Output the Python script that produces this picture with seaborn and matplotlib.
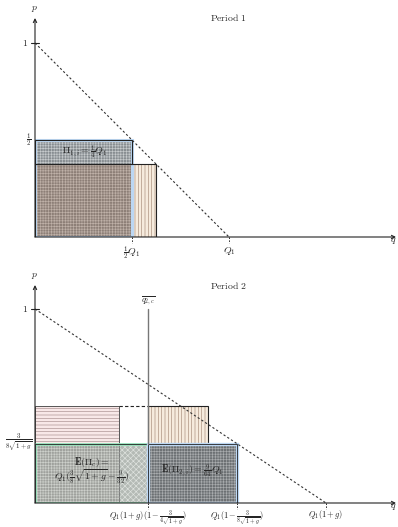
"""
Two-period pricing diagram: demand lines and profit rectangles,
drawn in q (units of Q1) and p coordinates.
"""

import matplotlib
matplotlib.use('Agg')
import matplotlib.pyplot as plt
import seaborn as sns

# Period 1 values
P1_DEMAND_Q = [0.0, 1.0]
P1_DEMAND_P = [1.0, 0.0]
P1_HALF = 0.5            # monopoly price and quantity (1/2, 1/2 Q1)
P1_ENTRY_P = 0.375       # 3/8
P1_ENTRY_Q = 0.625       # 5/8 Q1

# Period 2 values (g read as 0.5)
P2_DEMAND_Q = [0.0, 1.5]
P2_DEMAND_P = [1.0, 0.0]
P2_LOW_P = 0.306         # 3 / (8 sqrt(1+g))
P2_HIGH_P = 0.5
P2_QBAR = 0.581          # Q1(1+g)(1 - 3/(4 sqrt(1+g)))
P2_RIGHT_Q = 1.041       # Q1(1+g)(1 - 3/(8 sqrt(1+g)))
P2_HSTRIPE_Q = 0.433
P2_VSTRIPE_Q = 0.892

# Labels
P1_XTICKS = [0.5, 1.0]
P1_XLABELS = [r'$\frac{1}{2}Q_1$', r'$Q_1$']
P2_XTICKS = [P2_QBAR, P2_RIGHT_Q, 1.5]
P2_XLABELS = [r'$Q_1(1+g)(1-\frac{3}{4\sqrt{1+g}})$',
              r'$Q_1(1-\frac{3}{8\sqrt{1+g}})$',
              r'$Q_1(1+g)$']

SCALE = 194.0  # pixels per unit


def box(ax, x0, x1, y0, y1, face, hatch_color, hatch, z):
    ax.bar(x0, y1 - y0, width=x1 - x0, bottom=y0, align='edge',
           color=face, edgecolor=hatch_color, hatch=hatch, linewidth=0, zorder=z)


def outline(ax, x0, x1, y0, y1, color, lw, z):
    ax.bar(x0, y1 - y0, width=x1 - x0, bottom=y0, align='edge',
           fill=False, edgecolor=color, linewidth=lw, zorder=z)


def axes_frame(ax, xmax, ymax):
    ax.set_xlim(0, xmax)
    ax.set_ylim(0, ymax)
    ax.axis('off')
    arrow = dict(arrowstyle='->', lw=0.8, color='#222222', shrinkA=0, shrinkB=0,
                 mutation_scale=6)
    ax.annotate('', xy=(xmax, 0), xytext=(0, 0), arrowprops=arrow,
                annotation_clip=False, zorder=10)
    ax.annotate('', xy=(0, ymax), xytext=(0, 0), arrowprops=arrow,
                annotation_clip=False, zorder=10)
    ax.text(0, ymax + 0.045, r'$p$', ha='center', va='center', fontsize=7)
    ax.text(xmax - 0.015, -0.02, r'$q$', ha='center', va='center', fontsize=7)
    ax.plot([-0.02, 0.02], [1, 1], color='#222222', lw=0.8, clip_on=False, zorder=10)
    ax.text(-0.035, 1, r'$1$', ha='right', va='center', fontsize=7)


def xticks(ax, pos, labels, size, top):
    for q, lab in zip(pos, labels):
        ax.plot([q, q], [0, -0.03], color='#222222', lw=0.7,
                linestyle=(0, (1.5, 1.5)), clip_on=False, zorder=10)
        ax.text(q, top, lab, ha='center', va='top', fontsize=size)


def main():
    sns.set_theme(style='white')
    plt.rcParams['mathtext.fontset'] = 'cm'
    plt.rcParams['font.family'] = ['DejaVu Serif']
    plt.rcParams['hatch.linewidth'] = 0.45

    fig = plt.figure(figsize=(3.98, 5.27), dpi=100)
    W, H = 398.0, 527.0

    # ---------- Period 1 ----------
    ax1 = fig.add_axes([35 / W, (H - 237) / H, 361 / W, 219 / H])
    xmax1, ymax1 = 361 / SCALE, 219 / SCALE
    axes_frame(ax1, xmax1, ymax1)

    box(ax1, 0, P1_HALF, P1_ENTRY_P, P1_HALF, '#878d91', '#c6cacc', '++++++', 2)
    box(ax1, 0, P1_HALF, 0, P1_ENTRY_P, '#8d7f77', '#bfb1a8', '++++++', 2)
    box(ax1, P1_HALF, P1_ENTRY_Q, 0, P1_ENTRY_P, '#f6ebdd', '#a58a78', '|||||', 2)
    outline(ax1, 0, P1_HALF, 0, P1_HALF, '#bcd7f3', 2.2, 3)
    outline(ax1, 0, P1_ENTRY_Q, 0, P1_ENTRY_P, '#222222', 0.8, 4)
    outline(ax1, 0, P1_HALF, P1_ENTRY_P, P1_HALF, '#222222', 0.8, 4)

    sns.lineplot(x=P1_DEMAND_Q, y=P1_DEMAND_P, ax=ax1, color='#333333',
                 linewidth=0.8, linestyle=(0, (2, 2)), zorder=5)

    ax1.text(-0.02, P1_HALF, r'$\frac{1}{2}$', ha='right', va='center', fontsize=7)
    xticks(ax1, P1_XTICKS, P1_XLABELS, 7, -0.04)
    ax1.text(0.258, 0.438, r'$\Pi_{1,i}=\frac{1}{4}Q_1$', ha='center', va='center',
             fontsize=7, zorder=6)
    ax1.text(0.995, 1.134, r'$\mathrm{Period\ 1}$', ha='center', va='center', fontsize=7)

    # ---------- Period 2 ----------
    ax2 = fig.add_axes([35 / W, (H - 503) / H, 361 / W, 218 / H])
    xmax2, ymax2 = 361 / SCALE, 218 / SCALE
    axes_frame(ax2, xmax2, ymax2)

    box(ax2, 0, P2_HSTRIPE_Q, P2_LOW_P, P2_HIGH_P, '#f8e8e8', '#a88e8e', '-----', 2)
    box(ax2, P2_QBAR, P2_VSTRIPE_Q, P2_LOW_P, P2_HIGH_P, '#f6ebdd', '#a58a78', '|||||', 2)
    box(ax2, 0, P2_HSTRIPE_Q, 0, P2_LOW_P, '#9fa19d', '#cdd0cb', '++++++', 2)
    box(ax2, P2_HSTRIPE_Q, P2_QBAR, 0, P2_LOW_P, '#b4bab5', '#e0e4e0', 'xxxxxx', 2)
    box(ax2, P2_QBAR, P2_RIGHT_Q, 0, P2_LOW_P, '#6c7073', '#a9acae', '++++++', 2)

    outline(ax2, 0, P2_HSTRIPE_Q, P2_LOW_P, P2_HIGH_P, '#555555', 0.7, 3)
    ax2.plot([P2_HSTRIPE_Q, P2_HSTRIPE_Q], [0, P2_LOW_P], color='#666666', lw=0.5,
             zorder=3)
    outline(ax2, P2_QBAR, P2_VSTRIPE_Q, P2_LOW_P, P2_HIGH_P, '#222222', 0.8, 3)
    outline(ax2, 0, P2_QBAR, 0, P2_LOW_P, '#96e2bb', 2.0, 4)
    outline(ax2, 0, P2_QBAR, 0, P2_LOW_P, '#222222', 0.6, 4)
    outline(ax2, P2_QBAR, P2_RIGHT_Q, 0, P2_LOW_P, '#bcd7f3', 2.4, 4)
    outline(ax2, P2_QBAR, P2_RIGHT_Q, 0, P2_LOW_P, '#222222', 0.6, 4)

    ax2.plot([P2_HSTRIPE_Q, P2_QBAR], [P2_HIGH_P, P2_HIGH_P], color='#222222',
             lw=0.8, linestyle=(0, (3, 2)), zorder=5)
    ax2.plot([P2_QBAR, P2_QBAR], [P2_LOW_P, 1.0], color='#777777', lw=1.0, zorder=5)

    sns.lineplot(x=P2_DEMAND_Q, y=P2_DEMAND_P, ax=ax2, color='#333333',
                 linewidth=0.8, linestyle=(0, (2, 2)), zorder=6)

    ax2.text(P2_QBAR, 1.04, r'$\overline{q_{2,c}}$', ha='center', va='center', fontsize=6)
    ax2.text(-0.01, P2_LOW_P, r'$\frac{3}{8\sqrt{1+g}}$', ha='right', va='center',
             fontsize=7)
    xticks(ax2, P2_XTICKS, P2_XLABELS, 6, -0.026)
    ax2.text(0.294, 0.211, r'$\mathbf{E}(\Pi_c)=$', ha='center', va='center',
             fontsize=7, zorder=7)
    ax2.text(0.294, 0.134, r'$Q_1(\frac{3}{8}\sqrt{1+g}-\frac{9}{32})$', ha='center',
             va='center', fontsize=7, zorder=7)
    ax2.text(0.809, 0.165, r'$\mathbf{E}(\Pi_{2,i})=\frac{9}{64}Q_1$', ha='center',
             va='center', fontsize=7, zorder=7)
    ax2.text(0.995, 1.119, r'$\mathrm{Period\ 2}$', ha='center', va='center', fontsize=7)

    fig.savefig('out.png', dpi=100)
    plt.close(fig)


if __name__ == "__main__":
    main()
